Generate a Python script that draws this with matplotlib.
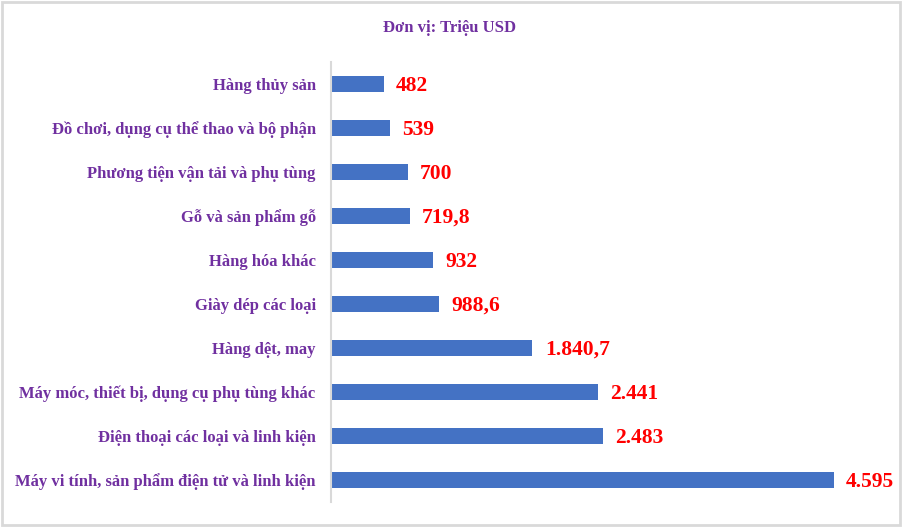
import matplotlib
matplotlib.use('Agg')
import matplotlib.pyplot as plt
import numpy as np

# data, top to bottom as in the chart
categories = ["Hàng thủy sản",
              "Đồ chơi, dụng cụ thể thao và bộ phận",
              "Phương tiện vận tải và phụ tùng",
              "Gỗ và sản phẩm gỗ",
              "Hàng hóa khác",
              "Giày dép các loại",
              "Hàng dệt, may",
              "Máy móc, thiết bị, dụng cụ phụ tùng khác",
              "Điện thoại các loại và linh kiện",
              "Máy vi tính, sản phẩm điện tử và linh kiện"]
values = [482, 539, 700, 719.8, 932, 988.6, 1840.7, 2441, 2483, 4595]
value_labels = ["482", "539", "700", "719,8", "932", "988,6",
                "1.840,7", "2.441", "2.483", "4.595"]

purple = '#7030A0'
red = '#FF0000'
blue = '#4472C4'
font = 'Liberation Serif'

fig = plt.figure(figsize=(9.02, 5.27), dpi=100)
ax = fig.add_axes([331/902, 1-502/527, (878-331)/902, (502-62)/527])

y = np.arange(len(categories))
ax.barh(y, values, height=0.36, color=blue)
ax.set_ylim(len(categories)-0.5, -0.5)
ax.set_xlim(0, 5000)

ax.set_yticks(y)
ax.set_yticklabels(categories, fontfamily=font, fontweight='bold',
                   fontsize=12, color=purple)
ax.tick_params(axis='y', length=0, pad=11)
ax.set_xticks([])

for sp in ['top', 'right', 'bottom']:
    ax.spines[sp].set_visible(False)
ax.spines['left'].set_color('#d9d9d9')
ax.spines['left'].set_linewidth(1.5)

for yi, v, lab in zip(y, values, value_labels):
    ax.annotate(lab, (v, yi), xytext=(9, -1.5), textcoords='offset points',
                va='center', ha='left', fontfamily=font, fontweight='bold',
                fontsize=15.5, color=red)

fig.text(450/902, 1-28/527, "Đơn vị: Triệu USD", ha='center', va='center',
         fontfamily=font, fontweight='bold', fontsize=12, color=purple)

# light gray chart border
fig.patches.append(plt.Rectangle((0.002, 0.003), 0.996, 0.994,
                                 transform=fig.transFigure, fill=False,
                                 edgecolor='#d9d9d9', linewidth=2))

fig.savefig('out.png', dpi=100)
